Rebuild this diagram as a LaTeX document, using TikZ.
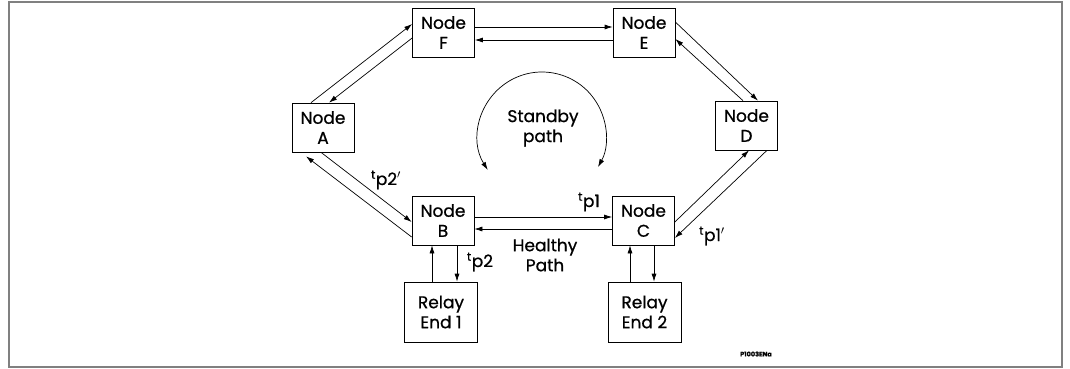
\documentclass[tikz,border=0pt]{standalone}
\usepackage{fontspec}
\setmainfont{Poppins}[FakeBold=0.8]
\usetikzlibrary{arrows.meta}
\begin{document}
\begin{tikzpicture}[
x=1pt, y=-1pt,
>={Latex[length=8pt,width=5pt]},
line width=0.7pt,
every node/.style={align=center, inner sep=0pt, font=\fontsize{17}{20}\selectfont},
station/.style={draw, minimum width=62pt, minimum height=49pt},
relay/.style={draw, minimum width=73pt, minimum height=60pt}
]
\useasboundingbox (0,0) rectangle (1070,369);
\draw[gray, line width=2.3pt] (9,2.2) rectangle (1062,367);
\node[station] (nodeF) at (443.5,32.5) {Node\\F};
\node[station] (nodeE) at (644,32.5) {Node\\E};
\node[station] (nodeA) at (323,127.5) {Node\\A};
\node[station] (nodeD) at (746.5,125.5) {Node\\D};
\node[station] (nodeB) at (443,220.5) {Node\\B};
\node[station] (nodeC) at (643.5,220.5) {Node\\C};
\node[relay] (relayOne) at (441,312) {Relay\\End 1};
\node[relay] (relayTwo) at (644.5,312) {Relay\\End 2};
\draw[->] ([yshift=5.5pt]nodeF.east) -- ([yshift=5.5pt]nodeE.west);
\draw[->] ([yshift=-7.5pt]nodeE.west) -- ([yshift=-7.5pt]nodeF.east);
\draw[->] ([xshift=-12pt]nodeA.north) -- ([yshift=8.5pt]nodeF.west);
\draw[->] ([yshift=-5.5pt]nodeF.west) -- ([xshift=6pt]nodeA.north);
\draw[->] ([yshift=10.5pt]nodeE.east) -- ([xshift=11.5pt]nodeD.north);
\draw[->] ([xshift=-3.5pt]nodeD.north) -- ([yshift=-6.5pt]nodeE.east);
\draw[->] ([xshift=-2pt]nodeA.south) -- ([yshift=-1.5pt]nodeB.west);
\draw[->] ([yshift=-16.5pt]nodeB.west) -- ([xshift=-17pt,yshift=-4pt]nodeA.south);
\draw[->] ([yshift=-1.5pt]nodeC.east) -- ([xshift=2.5pt]nodeD.south);
\draw[->] ([xshift=20.5pt]nodeD.south) -- ([yshift=-17.5pt]nodeC.east);
\draw[->] ([yshift=3.5pt]nodeB.east) -- ([yshift=3.5pt]nodeC.west);
\draw[->] ([yshift=-8.5pt]nodeC.west) -- ([yshift=-8.5pt]nodeB.east);
\draw[->] ([xshift=14pt]nodeB.south) -- ([xshift=16pt]relayOne.north);
\draw[->] ([xshift=-9pt]relayOne.north) -- ([xshift=-11pt]nodeB.south);
\draw[->] ([xshift=10.5pt]nodeC.south) -- ([xshift=9.5pt]relayTwo.north);
\draw[->] ([xshift=-14.5pt]relayTwo.north) -- ([xshift=-13.5pt]nodeC.south);
\draw[<->] (542,136) ++(148:64) arc[start angle=148, end angle=389, radius=64];
\node (standby) at (543,128) {Standby\\path};
\node (healthy) at (545,255) {Healthy\\Path};
\node (tpTwoPrime) at (386,180) {\textsuperscript{t}p2$'$};
\node (tpOne) at (589,202) {\textsuperscript{t}p1};
\node (tpOnePrime) at (712,236) {\textsuperscript{t}p1$'$};
\node (tpTwo) at (480,262) {\textsuperscript{t}p2};
\node[font=\fontsize{6.5}{7}\selectfont\bfseries] (figId) at (756,354) {P1003ENa};
\end{tikzpicture}
\end{document}
